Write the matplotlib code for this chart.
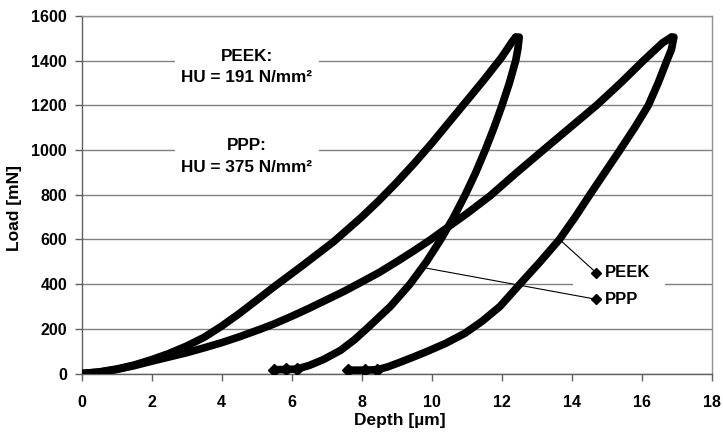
import matplotlib
matplotlib.use("Agg")
import matplotlib.pyplot as plt
from matplotlib.patches import Rectangle

plt.rcParams['font.family'] = ['Liberation Sans', 'DejaVu Sans']

# ---- data ----
ppp_load_depth = [0, 0.5, 1.0, 1.5, 2.0, 2.5, 3.0, 3.5, 4.0, 4.5, 5.0, 5.47, 6.3, 7.2, 7.6, 8.0,
                  8.5, 9.0, 9.5, 10.0, 10.5, 11.0, 11.5, 12.0, 12.3, 12.4]
ppp_load_force = [0, 7, 20, 38, 62, 90, 123, 162, 212, 268, 328, 385, 482, 590, 645, 700,
                  775, 855, 940, 1030, 1125, 1220, 1315, 1415, 1485, 1505]
ppp_unload_depth = [12.4, 12.5, 12.46, 12.4, 12.22, 12.01, 11.78, 11.53, 11.26, 10.96, 10.63, 10.26,
                    9.85, 9.38, 8.82, 8.14, 7.8, 7.4, 6.9, 6.5, 6.15, 5.85, 5.5]
ppp_unload_force = [1505, 1505, 1450, 1400, 1300, 1200, 1100, 1000, 900, 800, 700, 600,
                    500, 400, 300, 200, 152, 104, 62, 36, 20, 18, 17]

peek_load_depth = [0, 0.5, 1.0, 1.5, 2.0, 2.5, 3.0, 3.5, 4.0, 4.5, 5.1, 5.5, 6.0, 6.5, 7.0, 7.5,
                   7.86, 8.5, 9.0, 9.5, 9.95, 10.33, 11.0, 11.67, 12.4, 13.19, 13.95, 14.71,
                   15.4, 16.05, 16.6, 16.85]
peek_load_force = [0, 6, 18, 35, 55, 74, 93, 115, 138, 164, 198, 222, 256, 292, 330, 368,
                   398, 452, 500, 550, 597, 640, 715, 795, 895, 1000, 1100, 1200,
                   1300, 1400, 1480, 1505]
peek_unload_depth = [16.85, 16.92, 16.85, 16.72, 16.47, 16.19, 15.8, 15.38, 14.95, 14.52, 14.1,
                     13.65, 13.1, 12.52, 11.95, 11.45, 10.95, 10.4, 9.86, 9.45, 9.09, 8.75,
                     8.45, 8.1, 7.6]
peek_unload_force = [1505, 1505, 1450, 1400, 1300, 1200, 1100, 1000, 900, 800, 700,
                     600, 500, 400, 300, 235, 180, 135, 98, 72, 50, 30,
                     17, 15, 15]

x_ticks = [0, 2, 4, 6, 8, 10, 12, 14, 16, 18]
y_ticks = [0, 200, 400, 600, 800, 1000, 1200, 1400, 1600]

legend_labels = ["PEEK", "PPP"]
legend_pos = [(14.7, 451), (14.7, 332)]
leader_targets = [(13.65, 600), (9.86, 471)]

peek_note = ["PEEK:", "HU = 191 N/mm²"]
ppp_note = ["PPP:", "HU = 375 N/mm²"]

# ---- figure ----
W, H = 723, 433
fig = plt.figure(figsize=(W / 100, H / 100), dpi=100)
L, R, T, B = 81.7, 711.7, 15.9, 373.5
ax = fig.add_axes([L / W, 1 - B / H, (R - L) / W, (B - T) / H])

ax.set_xlim(0, 18)
ax.set_ylim(0, 1600)
ax.set_xticks(x_ticks)
ax.set_yticks(y_ticks)

ax.set_axisbelow(True)
ax.yaxis.grid(True, color='#808080', lw=1.0)
ax.xaxis.grid(False)

for s in ax.spines.values():
    s.set_color('#909090')
    s.set_linewidth(1.0)
ax.spines['left'].set_color('#606060')
ax.spines['bottom'].set_color('#606060')

TICK_FS = 11.5
ax.tick_params(axis='x', direction='out', length=5, width=1, color='#606060', pad=10.5,
               labelsize=TICK_FS)
ax.tick_params(axis='y', direction='out', length=5, width=1, color='#606060', pad=5.5,
               labelsize=TICK_FS)
for lab in ax.get_xticklabels() + ax.get_yticklabels():
    lab.set_fontweight('bold')

# white boxes behind annotations / legend (break the gridlines)
ax.add_patch(Rectangle((2.66, 1280), 6.78 - 2.66, 180, facecolor='white', edgecolor='none', zorder=1))
ax.add_patch(Rectangle((2.66, 880), 6.78 - 2.66, 180, facecolor='white', edgecolor='none', zorder=1))
ax.add_patch(Rectangle((14.05, 290), 16.67 - 14.05, 200, facecolor='white', edgecolor='none', zorder=1))

lw = 5.5
for xs, ys in [(ppp_load_depth, ppp_load_force), (ppp_unload_depth, ppp_unload_force),
               (peek_load_depth, peek_load_force), (peek_unload_depth, peek_unload_force)]:
    ax.plot(xs, ys, color='black', lw=lw, solid_joinstyle='round', solid_capstyle='round', zorder=3)

# flat holding segments with diamond markers
ax.plot(ppp_unload_depth[-3:], ppp_unload_force[-3:], ls='none', marker='D', ms=6, color='black', zorder=3)
ax.plot(peek_unload_depth[-3:], peek_unload_force[-3:], ls='none', marker='D', ms=6, color='black', zorder=3)

# legend with leader lines
for (lx, ly), (tx, ty), lab in zip(legend_pos, leader_targets, legend_labels):
    ax.plot([tx, lx], [ty, ly], color='black', lw=0.8, zorder=4)
    ax.plot([lx], [ly], ls='none', marker='D', ms=5, color='black', zorder=5)
    ax.text(lx + 0.26, ly, lab, ha='left', va='center', fontsize=12, fontweight='bold', zorder=5)

# annotations
NOTE_FS = 12.3
ax.text(4.72, 1418, peek_note[0], ha='center', va='center', fontsize=NOTE_FS, fontweight='bold', zorder=5)
ax.text(4.72, 1324, peek_note[1], ha='center', va='center', fontsize=NOTE_FS, fontweight='bold', zorder=5)
ax.text(4.72, 1020, ppp_note[0], ha='center', va='center', fontsize=NOTE_FS, fontweight='bold', zorder=5)
ax.text(4.72, 921, ppp_note[1], ha='center', va='center', fontsize=NOTE_FS, fontweight='bold', zorder=5)

fig.text(400 / W, 1 - 420 / H, 'Depth [µm]', ha='center', va='center', fontsize=12.5, fontweight='bold')
fig.text(15 / W, 1 - 208 / H, 'Load [mN]', ha='center', va='center', rotation=90, fontsize=12.5,
         fontweight='bold')

fig.savefig('out.png', dpi=100)
